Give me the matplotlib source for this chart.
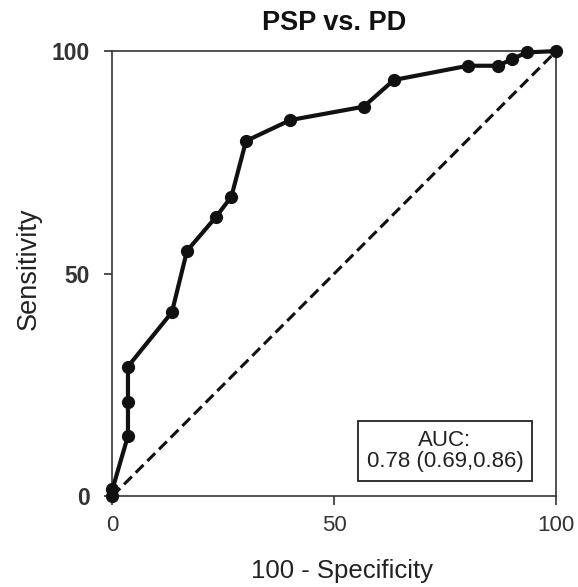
import matplotlib
matplotlib.use("Agg")
from matplotlib import pyplot as plt

plt.rcParams['font.family'] = ['Liberation Sans', 'DejaVu Sans']

# ROC points: 100 - specificity vs sensitivity
fpr = [0, 0, 3.5, 3.5, 3.5, 13.4, 16.8, 23.4, 26.8, 30.1, 40.1, 56.6, 63.4, 80.1, 86.9, 90.0, 93.4, 100]
tpr = [0, 1.5, 13.5, 21.2, 29.1, 41.3, 55.1, 62.8, 67.3, 79.8, 84.5, 87.5, 93.5, 96.7, 96.7, 98.2, 99.7, 100]

ticks = [0, 50, 100]
auc_text = "AUC:\n0.78 (0.69,0.86)"

fig = plt.figure(figsize=(5.78, 5.87), dpi=100)
ax = fig.add_axes([0.1945, 0.155, 0.768, 0.758])

# chance line
ax.plot([0, 100], [0, 100], color='#111111', lw=2.2, ls=(0, (3.6, 1.8)), zorder=2)
ax.plot(fpr, tpr, color='#111111', lw=3, marker='o', markersize=8.5, zorder=3,
        clip_on=False)

ax.set_xlim(0, 100)
ax.set_ylim(0, 100)
ax.set_xticks(ticks)
ax.set_yticks(ticks)
ax.set_xticklabels([str(t) for t in ticks], fontsize=16, color='#333333')
ax.set_yticklabels([str(t) for t in ticks], fontsize=16.5, fontweight='bold', color='#333333')
ax.tick_params(axis='x', direction='out', length=6.5, width=1.2, colors='#333333', pad=7)
ax.tick_params(axis='y', direction='out', length=6, width=1.2, colors='#333333', pad=10)
for s in ax.spines.values():
    s.set_linewidth(1.2)
    s.set_color('#333333')

fig.text(0.5787, 0.949, "PSP vs. PD", fontsize=19.5, fontweight='bold',
         ha='center', va='baseline', color='#111111')
fig.text(0.592, 0.0153, "100 - Specificity", fontsize=18.5, ha='center',
         va='baseline', color='#222222')
fig.text(0.050, 0.5417, "Sensitivity", fontsize=19.5, rotation=90, ha='center',
         va='center', color='#222222')

ax.text(74.9, 10.1, auc_text, ha='center', va='center', fontsize=16, color='#222222',
        linespacing=1.05,
        bbox=dict(boxstyle='square,pad=0.4', fc='white', ec='#222222', lw=1.3))

fig.savefig("out.png", dpi=100)
